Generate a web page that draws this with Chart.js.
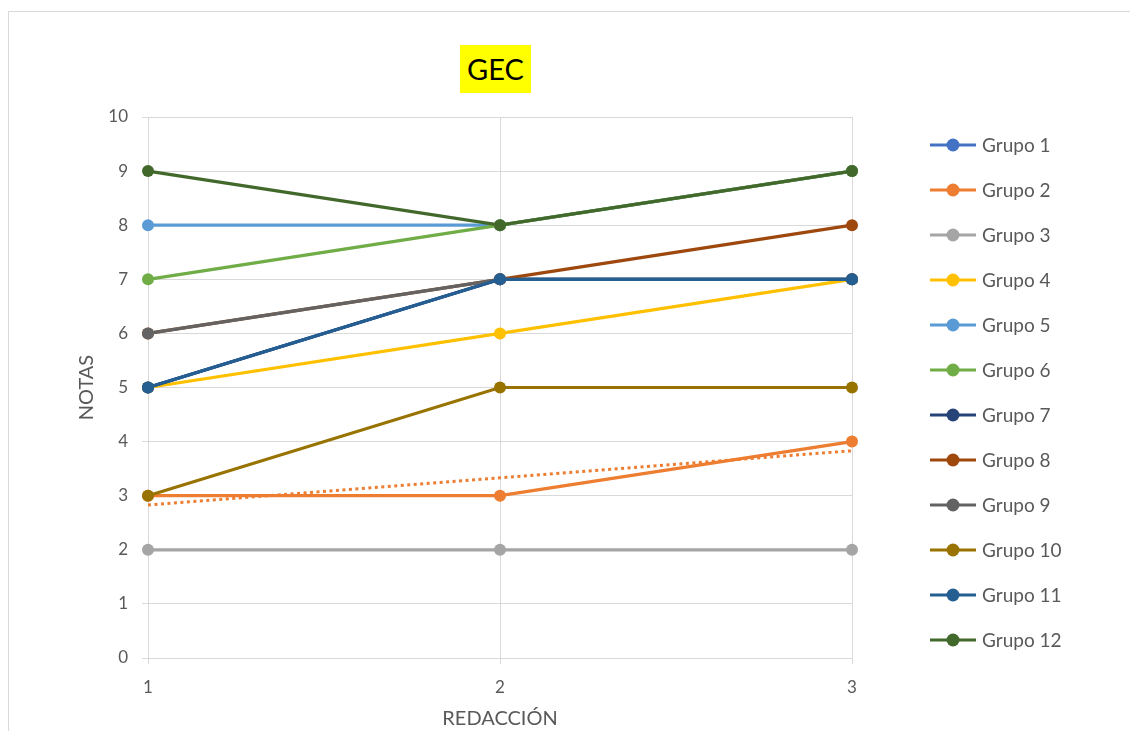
<!DOCTYPE html>
<html>
<head>
<meta charset="utf-8">
<script src="https://cdn.jsdelivr.net/npm/chart.js@4.4.1/dist/chart.umd.min.js"></script>
<style>
  body { margin: 0; background: #fff; }
  #wrap { position: relative; width: 1130px; height: 731px; overflow: hidden; }
  #frame { position: absolute; left: 8px; top: 11px; width: 1140px; height: 740px; border: 1px solid #d9d9d9; box-sizing: border-box; }
  #title { position: absolute; left: 460px; top: 45px; width: 71px; height: 48px; background: #ffff00;
           font-family: Lato, "Noto Sans", sans-serif; font-size: 29px; line-height: 48px; text-align: center; color: #000; }
  canvas { position: absolute; left: 0; top: 0; }
</style>
</head>
<body>
<div id="wrap">
  <div id="frame"></div>
  <canvas id="myChart" width="1130" height="731"></canvas>
  <div id="title">GEC</div>
</div>
<script>
// categories on the x axis
const categories = ["1", "2", "3"];

// series values (notas)
const grupo1 = [5, 7, 7];
const grupo2 = [3, 3, 4];
const grupo3 = [2, 2, 2];
const grupo4 = [5, 6, 7];
const grupo5 = [8, 8, 9];
const grupo6 = [7, 8, 9];
const grupo7 = [5, 7, 7];
const grupo8 = [6, 7, 8];
const grupo9 = [6, 7, 7];
const grupo10 = [3, 5, 5];
const grupo11 = [5, 7, 7];
const grupo12 = [9, 8, 9];

// linear trendline of Grupo 2
const trendGrupo2 = [2.83, 3.33, 3.83];

const seriesNames = ["Grupo 1", "Grupo 2", "Grupo 3", "Grupo 4", "Grupo 5", "Grupo 6",
                     "Grupo 7", "Grupo 8", "Grupo 9", "Grupo 10", "Grupo 11", "Grupo 12"];
const seriesValues = [grupo1, grupo2, grupo3, grupo4, grupo5, grupo6,
                      grupo7, grupo8, grupo9, grupo10, grupo11, grupo12];
const colors = ["#4472C4", "#ED7D31", "#A5A5A5", "#FFC000", "#5B9BD5", "#70AD47",
                "#264478", "#9E480E", "#636363", "#997300", "#255E91", "#43682B"];

const textColor = "#595959";
const gridColor = "#d9d9d9";
const font = "Lato, 'Noto Sans', sans-serif";

const datasets = seriesNames.map((name, i) => ({
  label: name,
  data: seriesValues[i],
  borderColor: colors[i],
  backgroundColor: colors[i],
  borderWidth: 3.2,
  pointRadius: 6,
  pointHoverRadius: 6,
  pointBorderWidth: 0,
  tension: 0,
  order: 100 - i   // later series drawn on top, like Excel
}));

datasets.push({
  label: "trend",
  data: trendGrupo2,
  borderColor: colors[1],
  borderWidth: 3,
  borderDash: [3, 3.5],
  pointRadius: 0,
  order: -1,
  isTrend: true
});

// legend drawn by hand: line with a dot on it, text to the right
const sideLegend = {
  id: "sideLegend",
  afterDraw(chart) {
    const ctx = chart.ctx;
    ctx.save();
    chart.data.datasets.forEach((ds, i) => {
      if (ds.isTrend) return;
      const y = 145 + i * 45;
      ctx.strokeStyle = ds.borderColor;
      ctx.lineWidth = 3.2;
      ctx.beginPath();
      ctx.moveTo(930, y);
      ctx.lineTo(976, y);
      ctx.stroke();
      ctx.fillStyle = ds.borderColor;
      ctx.beginPath();
      ctx.arc(953, y, 6.5, 0, Math.PI * 2);
      ctx.fill();
      ctx.fillStyle = textColor;
      ctx.font = "19px " + font;
      ctx.textBaseline = "middle";
      ctx.fillText(ds.label, 982, y + 1);
    });
    ctx.restore();
  }
};

const ctx = document.getElementById("myChart").getContext("2d");
new Chart(ctx, {
  type: "line",
  data: { labels: categories, datasets: datasets },
  options: {
    responsive: false,
    animation: false,
    layout: { padding: { left: 71, right: 278, top: 117, bottom: 0 } },
    plugins: { legend: { display: false }, title: { display: false }, tooltip: { enabled: false } },
    scales: {
      x: {
        offset: false,
        grid: { color: gridColor, lineWidth: 1, tickLength: 6, drawTicks: true },
        border: { color: gridColor, width: 1 },
        ticks: { color: textColor, font: { family: font, size: 17 }, padding: 13, maxRotation: 0 },
        title: { display: true, text: "REDACCIÓN", color: textColor, font: { family: font, size: 20 }, padding: { top: 0, bottom: 0 } },
        afterFit(scale) { scale.height = 73; }
      },
      y: {
        min: 0,
        max: 10,
        ticks: { stepSize: 1, color: textColor, font: { family: font, size: 17 }, padding: 14 },
        grid: { color: gridColor, lineWidth: 1, tickLength: 6 },
        border: { color: gridColor, width: 1 },
        title: { display: true, text: "NOTAS", color: textColor, font: { family: font, size: 20 }, padding: { top: 4, bottom: 4 } },
        afterFit(scale) { scale.width = 77; }
      }
    }
  },
  plugins: [sideLegend]
});
</script>
</body>
</html>
